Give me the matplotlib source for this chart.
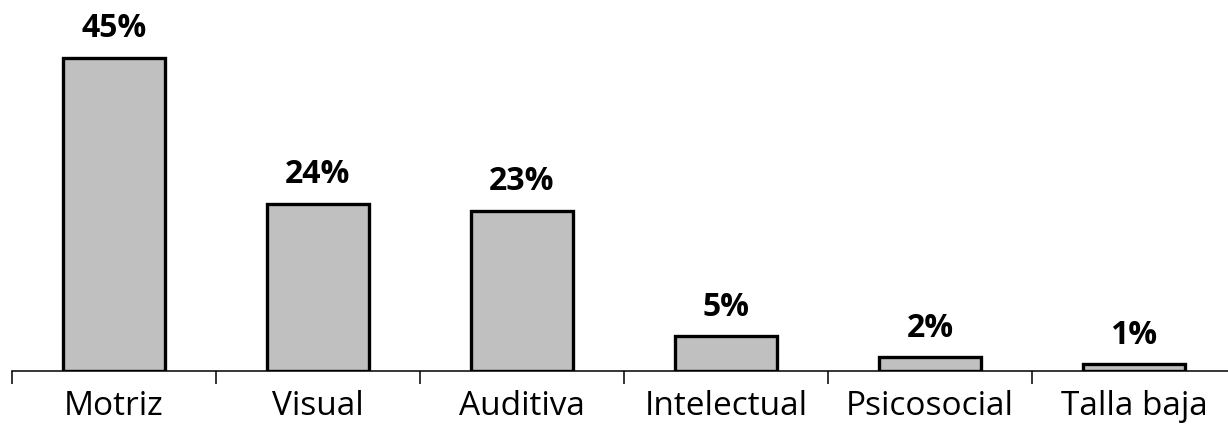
import matplotlib.pyplot as plt

categorias = ["Motriz", "Visual", "Auditiva", "Intelectual", "Psicosocial", "Talla baja"]
porcentajes = [45, 24, 23, 5, 2, 1]
etiquetas = ["45%", "24%", "23%", "5%", "2%", "1%"]

plt.rcParams['font.family'] = ['Open Sans', 'DejaVu Sans']

fig = plt.figure(figsize=(12.28, 4.25), dpi=100)
ax = fig.add_axes([12 / 1228, 1 - 371 / 425, 1224 / 1228, 371 / 425])

x = range(len(categorias))
ax.bar(x, porcentajes, width=0.5, color="#c0c0c0", edgecolor="black", linewidth=2.4, zorder=3)

for i, (v, t) in enumerate(zip(porcentajes, etiquetas)):
    ax.annotate(t, (i, v), xytext=(0, 9), textcoords="offset points",
                ha="center", va="bottom", fontsize=23, fontweight="bold")

ax.set_xlim(-0.5, 5.5)
ax.set_ylim(0, 53.3)

# ticks between categories, labels under bars
ax.set_xticks([i - 0.5 for i in range(len(categorias) + 1)])
ax.set_xticklabels([])
ax.set_xticks(list(x), minor=True)
ax.set_xticklabels(categorias, minor=True, fontsize=24)
ax.tick_params(axis="x", which="major", direction="out", length=9, width=1.1)
ax.tick_params(axis="x", which="minor", length=0, pad=14)

ax.set_yticks([])
for s in ["top", "right", "left"]:
    ax.spines[s].set_visible(False)
ax.spines["bottom"].set_linewidth(1.1)

fig.savefig("out.png", dpi=100)
